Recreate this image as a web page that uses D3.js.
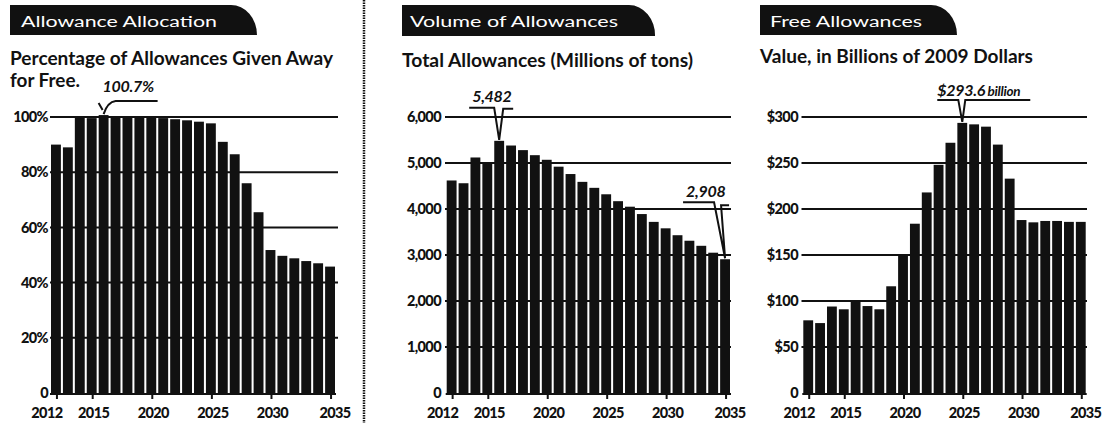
<!DOCTYPE html>
<html>
<head>
<meta charset="utf-8">
<script src="https://cdn.jsdelivr.net/npm/d3@7"></script>
<style>
  html, body { margin: 0; padding: 0; background: #fff; }
  svg { display: block; font-family: Lato, "Open Sans", sans-serif; }
</style>
</head>
<body>
<svg id="chart" width="1102" height="423"></svg>
<script>
// ---------------- DATA ----------------
const years = [2012, 2013, 2014, 2015, 2016, 2017, 2018, 2019, 2020, 2021, 2022, 2023,
               2024, 2025, 2026, 2027, 2028, 2029, 2030, 2031, 2032, 2033, 2034, 2035];
const yearTicks = [2012, 2015, 2020, 2025, 2030, 2035];

// Percentage of allowances given away for free
const pctFree = [90, 89, 100, 99.6, 100.7, 100, 100, 100, 100, 99.6, 99.2, 98.8,
                 98.3, 97.7, 91, 86.5, 76, 65.5, 51.8, 49.7, 48.8, 47.8, 47, 45.8];
const pctTicks = [0, 20, 40, 60, 80, 100];
const pctTickLabels = ["0", "20%", "40%", "60%", "80%", "100%"];

// Total allowances (millions of tons)
const totalAllowances = [4620, 4560, 5120, 4990, 5482, 5380, 5280, 5170, 5070, 4920, 4760, 4590,
                         4460, 4320, 4170, 4050, 3890, 3720, 3580, 3430, 3310, 3200, 3050, 2908];
const tonTicks = [0, 1000, 2000, 3000, 4000, 5000, 6000];
const tonTickLabels = ["0", "1,000", "2,000", "3,000", "4,000", "5,000", "6,000"];

// Value of free allowances, billions of 2009 dollars
const freeValue = [79, 76, 94, 91, 99, 94.5, 91, 116, 149, 184, 218, 248,
                   272, 293.6, 292, 289.5, 270, 233, 188, 185.5, 187, 187, 186, 186];
const dollarTicks = [0, 50, 100, 150, 200, 250, 300];
const dollarTickLabels = ["0", "$50", "$100", "$150", "$200", "$250", "$300"];

const tabTitles = ["Allowance Allocation", "Volume of Allowances", "Free Allowances"];
const subtitles = [["Percentage of Allowances Given Away", "for Free."],
                   ["Total Allowances (Millions of tons)"],
                   ["Value, in Billions of 2009 Dollars"]];

// ---------------- LAYOUT ----------------
const svg = d3.select("#chart");
const INK = "#111";
const yBottom = 393, yTop = 117;

const panels = [
  { data: pctFree, max: 100, ticks: pctTicks, tickLabels: pctTickLabels,
    barX0: 51, barX1: 335, gridX0: 50, gridX1: 338, labelX: 48,
    tab: [10, 257, 5, 35], tabTextX: 21, tabTextLen: 196,
    subX: 10, subBase: [65, 87], subLen: [323, 70],
    ann: { year: 2016, value: 100.7, kind: "p1" } },
  { data: totalAllowances, max: 6000, ticks: tonTicks, tickLabels: tonTickLabels,
    barX0: 446.7, barX1: 730, gridX0: 445, gridX1: 731, labelX: 441,
    tab: [402, 655, 5, 36], tabTextX: 410, tabTextLen: 208,
    subX: 402, subBase: [67], subLen: [291],
    ann: [{ year: 2016, value: 5482, kind: "v" }, { year: 2035, value: 2908, kind: "end" }] },
  { data: freeValue, max: 300, ticks: dollarTicks, tickLabels: dollarTickLabels,
    barX0: 803.3, barX1: 1085.7, gridX0: 801.5, gridX1: 1087, labelX: 798,
    tab: [760, 957, 5, 35], tabTextX: 770, tabTextLen: 152,
    subX: 760, subBase: [63], subLen: [273],
    ann: { year: 2025, value: 293.6, kind: "d" } }
];

panels.forEach((p, pi) => {
  const g = svg.append("g");
  const x = d3.scaleBand().domain(years).range([p.barX0, p.barX1]).paddingInner(0.17).paddingOuter(0);
  const y = d3.scaleLinear().domain([0, p.max]).range([yBottom, yTop]);

  // tab header
  const [tx0, tx1, ty0, ty1] = p.tab;
  g.append("path")
    .attr("d", `M${tx0},${ty0} H${tx1 - 26} A26 30 0 0 1 ${tx1},${ty1} H${tx0} Z`)
    .attr("fill", INK);
  g.append("text")
    .attr("x", p.tabTextX).attr("y", ty0 + 22)
    .attr("fill", "#fff").attr("font-size", 15.5).attr("font-weight", 400)
    .attr("textLength", p.tabTextLen).attr("lengthAdjust", "spacingAndGlyphs")
    .text(tabTitles[pi]);

  // subtitles
  subtitles[pi].forEach((s, si) => {
    g.append("text")
      .attr("x", p.subX).attr("y", p.subBase[si])
      .attr("fill", INK).attr("font-size", 18.5).attr("font-weight", 700)
      .attr("textLength", p.subLen[si]).attr("lengthAdjust", "spacingAndGlyphs")
      .text(s);
  });

  // gridlines
  g.selectAll(".grid").data(p.ticks.filter(t => t > 0)).enter().append("line")
    .attr("x1", p.gridX0).attr("x2", p.gridX1)
    .attr("y1", d => y(d)).attr("y2", d => y(d))
    .attr("stroke", INK).attr("stroke-width", 2);

  // y tick labels
  g.selectAll(".ylab").data(p.ticks).enter().append("text")
    .attr("x", p.labelX).attr("y", d => y(d)).attr("dy", "0.36em")
    .attr("text-anchor", "end").attr("fill", INK)
    .attr("font-size", 14.5).attr("font-weight", 900).attr("letter-spacing", -0.6)
    .text((d, i) => p.tickLabels[i]);

  // bars
  g.selectAll(".bar").data(p.data).enter().append("rect")
    .attr("x", (d, i) => x(years[i]))
    .attr("width", x.bandwidth())
    .attr("y", d => y(d))
    .attr("height", d => yBottom - y(d))
    .attr("fill", INK);

  // baseline + x ticks
  g.append("line").attr("x1", p.barX0 - 1).attr("x2", p.barX1 + 1)
    .attr("y1", yBottom + 1).attr("y2", yBottom + 1)
    .attr("stroke", INK).attr("stroke-width", 2);
  g.selectAll(".xt").data(yearTicks).enter().append("line")
    .attr("x1", d => x(d) + x.bandwidth() / 2 + 1).attr("x2", d => x(d) + x.bandwidth() / 2 + 1)
    .attr("y1", yBottom).attr("y2", yBottom + 6)
    .attr("stroke", INK).attr("stroke-width", 2);
  g.selectAll(".xlab").data(yearTicks).enter().append("text")
    .attr("x", (d, i) => x(d) + x.bandwidth() / 2 + (i === 0 ? -9 : i === yearTicks.length - 1 ? 5 : 2))
    .attr("y", 418).attr("text-anchor", "middle").attr("fill", INK)
    .attr("font-size", 14.5).attr("font-weight", 900).attr("letter-spacing", -0.6)
    .text(d => d);

  // annotations
  const anns = Array.isArray(p.ann) ? p.ann : [p.ann];
  anns.forEach(a => {
    const cx = x(a.year) + x.bandwidth() / 2;
    const cy = y(a.value) - 1;
    let path, tx, tyb, label;
    if (a.kind === "p1") {
      path = `M${cx + 54},${cy - 13} H${cx + 12} Q${cx + 4},${cy - 12} ${cx},${cy} M${cx - 5},${cy - 11} L${cx - 1},${cy - 4}`;
      tx = cx - 1; tyb = cy - 22; label = [["100.7%", 16, 700]];
    } else if (a.kind === "v") {
      path = `M${cx - 30},${cy - 32} H${cx - 5} L${cx},${cy} L${cx + 4},${cy - 31} H${cx + 14}`;
      tx = cx - 27; tyb = cy - 38; label = [["5,482", 16, 700]];
    } else if (a.kind === "end") {
      path = `M${cx - 42},${cy - 56} H${cx - 11} L${cx},${cy} L${cx - 4},${cy - 53} H${cx + 4}`;
      tx = cx - 39; tyb = cy - 61; label = [["2,908", 16, 700]];
    } else {
      path = `M${cx - 25},${cy - 22} H${cx - 4} L${cx},${cy} L${cx + 3},${cy - 22} H${cx + 68}`;
      tx = cx - 25; tyb = cy - 26; label = [["$293.6", 16, 700], [" billion", 13.5, 700]];
    }
    g.append("path").attr("d", path).attr("fill", "none")
      .attr("stroke", INK).attr("stroke-width", 2);
    const t = g.append("text").attr("x", tx).attr("y", tyb)
      .attr("fill", INK).attr("font-style", "italic").attr("letter-spacing", -0.3);
    label.forEach(([s, fs, fw]) => t.append("tspan").attr("font-size", fs).attr("font-weight", fw).text(s));
  });
});

// dotted divider between first and second panel
svg.append("line").attr("x1", 364).attr("x2", 364).attr("y1", 0).attr("y2", 423)
  .attr("stroke", INK).attr("stroke-width", 2.5).attr("stroke-dasharray", "1.5 1");
</script>
</body>
</html>
